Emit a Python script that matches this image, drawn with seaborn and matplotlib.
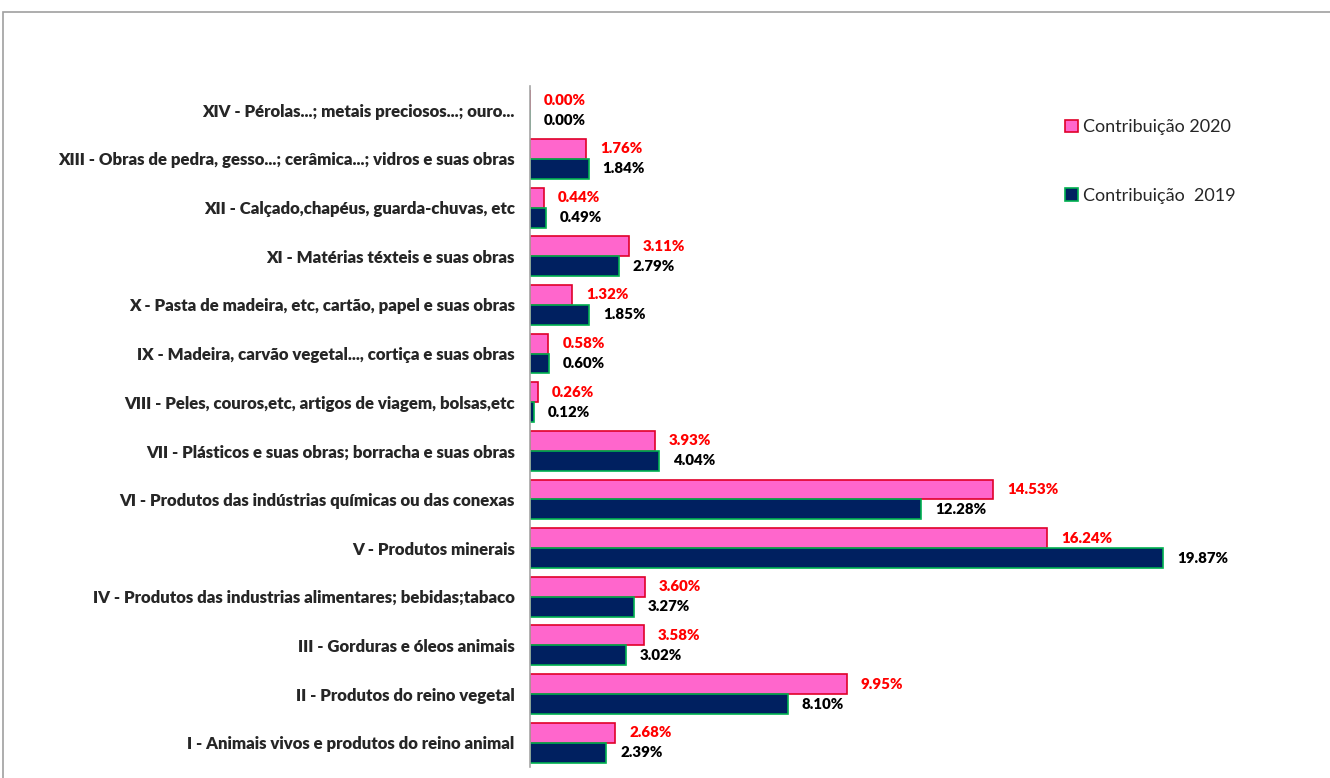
import pandas as pd
import matplotlib.pyplot as plt
import seaborn as sns
from matplotlib.patches import Rectangle

# categories, top to bottom
categories = [
    'XIV - Pérolas...; metais preciosos...; ouro...',
    'XIII - Obras de pedra, gesso...; cerâmica...; vidros e suas obras',
    'XII - Calçado,chapéus, guarda-chuvas, etc',
    'XI - Matérias téxteis e suas obras',
    'X - Pasta de madeira, etc, cartão, papel e suas obras',
    'IX - Madeira, carvão vegetal..., cortiça e suas obras',
    'VIII - Peles, couros,etc, artigos de viagem, bolsas,etc',
    'VII - Plásticos e suas obras; borracha e suas obras',
    'VI - Produtos das indústrias químicas ou das conexas',
    'V - Produtos minerais',
    'IV - Produtos das industrias alimentares; bebidas;tabaco',
    'III - Gorduras e óleos animais',
    'II - Produtos do reino vegetal',
    'I - Animais vivos e produtos do reino animal',
]
contrib_2020 = [0.00, 1.76, 0.44, 3.11, 1.32, 0.58, 0.26, 3.93, 14.53, 16.24, 3.60, 3.58, 9.95, 2.68]
contrib_2019 = [0.00, 1.84, 0.49, 2.79, 1.85, 0.60, 0.12, 4.04, 12.28, 19.87, 3.27, 3.02, 8.10, 2.39]
series = ['Contribuição 2020', 'Contribuição  2019']

df = pd.concat([
    pd.DataFrame({'categoria': categories, 'valor': contrib_2020, 'serie': series[0]}),
    pd.DataFrame({'categoria': categories, 'valor': contrib_2019, 'serie': series[1]}),
])

sns.set_style('white')
plt.rcParams['font.family'] = ['Lato', 'DejaVu Sans']

fig = plt.figure(figsize=(13.3, 7.78), dpi=100)
ax = fig.add_axes([530 / 1330, 11 / 778, 760 / 1330, 681 / 778])

sns.barplot(
    data=df, y='categoria', x='valor', hue='serie',
    order=categories, hue_order=series,
    palette=['#FF66CC', '#002060'], saturation=1, orient='h',
    width=0.82, ax=ax, legend=False,
)

edges = ['#E0002A', '#00B050']
label_colors = ['#FF0000', 'black']
for cont, ec, lc in zip(ax.containers, edges, label_colors):
    for p in cont:
        p.set_edgecolor(ec)
        p.set_linewidth(1.2)
    ax.bar_label(cont, labels=[f'{v:.2f}%' for v in cont.datavalues],
                 padding=10, color=lc, fontweight='heavy', fontsize=10.8)

ax.set_xlim(0, 760 / 31.86)
ax.set_ylim(len(categories) - 0.5, -0.5)
ax.set_xlabel('')
ax.set_ylabel('')
ax.set_xticks([])
ax.tick_params(axis='y', length=0, pad=11)
for t in ax.get_yticklabels():
    t.set_fontweight('heavy')
    t.set_fontsize(12.1)
for s in ['top', 'right', 'bottom']:
    ax.spines[s].set_visible(False)
ax.spines['left'].set_color('#A6A6A6')
ax.spines['left'].set_linewidth(1.2)

handles = [Rectangle((0, 0), 1, 1, facecolor='#FF66CC', edgecolor='#E0002A', linewidth=1.2),
           Rectangle((0, 0), 1, 1, facecolor='#002060', edgecolor='#00B050', linewidth=1.2)]
fig.legend(handles, series, loc='upper left', bbox_to_anchor=(1049 / 1330, 1 - 103 / 778),
           frameon=False, fontsize=13, handlelength=0.7, handleheight=0.7,
           handletextpad=0.3, labelspacing=2.9)

# outer chart frame
fig.add_artist(Rectangle((3 / 1330, -0.05), 1.1, 1 - 12 / 778 + 0.05, transform=fig.transFigure,
                         fill=False, edgecolor='#A0A0A0', linewidth=1.2))

plt.savefig('out.png', dpi=100)
